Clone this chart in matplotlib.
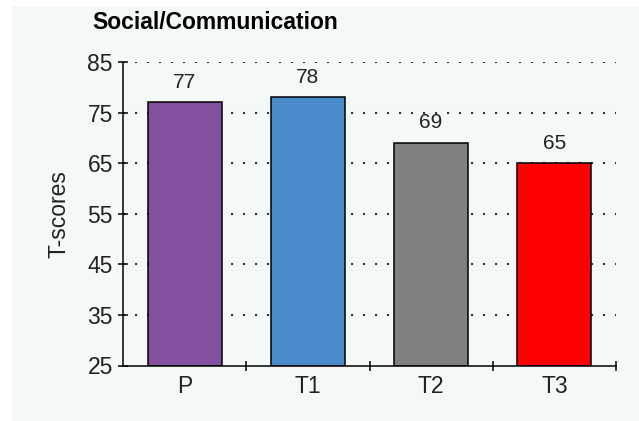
import matplotlib
matplotlib.use("Agg")
import matplotlib.pyplot as plt
from matplotlib.patches import Rectangle

categories = ["P", "T1", "T2", "T3"]
tscores = [77, 78, 69, 65]
bar_colours = ["#8450a0", "#4a8ccb", "#808080", "#ff0000"]
yticks = [25, 35, 45, 55, 65, 75, 85]

plt.rcParams["font.family"] = ["Liberation Sans", "DejaVu Sans"]

fig = plt.figure(figsize=(6.39, 4.21), dpi=100)
fig.patch.set_facecolor("white")
# light panel behind the whole chart
fig.patches.append(Rectangle((12/639, 0), 1 - 12/639, 1 - 6/421, transform=fig.transFigure,
                             facecolor="#f5f9f6", edgecolor="none", zorder=-1))

ax = fig.add_axes([123/639, 1 - 365.5/421, (616 - 123)/639, (365.5 - 62)/421])
ax.set_facecolor("none")
ax.set_zorder(1)

xpos = [i + 0.5 for i in range(len(categories))]
ax.bar(xpos, [v - 25 for v in tscores], bottom=25, width=0.6, color=bar_colours,
       edgecolor="black", linewidth=1.1, zorder=3)

for x, v in zip(xpos, tscores):
    ax.annotate(str(v), (x, v), xytext=(0, 10.5), textcoords="offset points",
                ha="center", va="baseline", fontsize=15, color="#222222")

ax.set_xlim(0, 4)
ax.set_ylim(25, 85)
ax.set_yticks(yticks)
ax.set_xticks(xpos)
ax.set_xticklabels(categories)
ax.set_xticks([1, 2, 3, 4], minor=True)

for y in yticks[1:]:
    ax.axhline(y, color="#333333", linewidth=1.5, linestyle=(0, (1, 4.76)), zorder=1)

for s in ["top", "right"]:
    ax.spines[s].set_visible(False)
for s in ["left", "bottom"]:
    ax.spines[s].set_linewidth(1.1)
    ax.spines[s].set_zorder(4)

ax.tick_params(axis="y", direction="inout", length=7.2, width=1.1, pad=3.6,
               labelsize=16.5, labelcolor="#222222")
ax.tick_params(axis="x", which="major", length=0, pad=7, labelsize=16.5, labelcolor="#222222")
ax.tick_params(axis="x", which="minor", direction="inout", length=6.5, width=1.1)

ax.set_ylabel("T-scores", fontsize=16.5, color="#222222", labelpad=12)

fig.text(92/639, 1 - 29/421, "Social/Communication", fontsize=16.5, fontweight="bold",
         ha="left", va="baseline", color="black")

fig.savefig("out.png", dpi=100, facecolor=fig.get_facecolor())
